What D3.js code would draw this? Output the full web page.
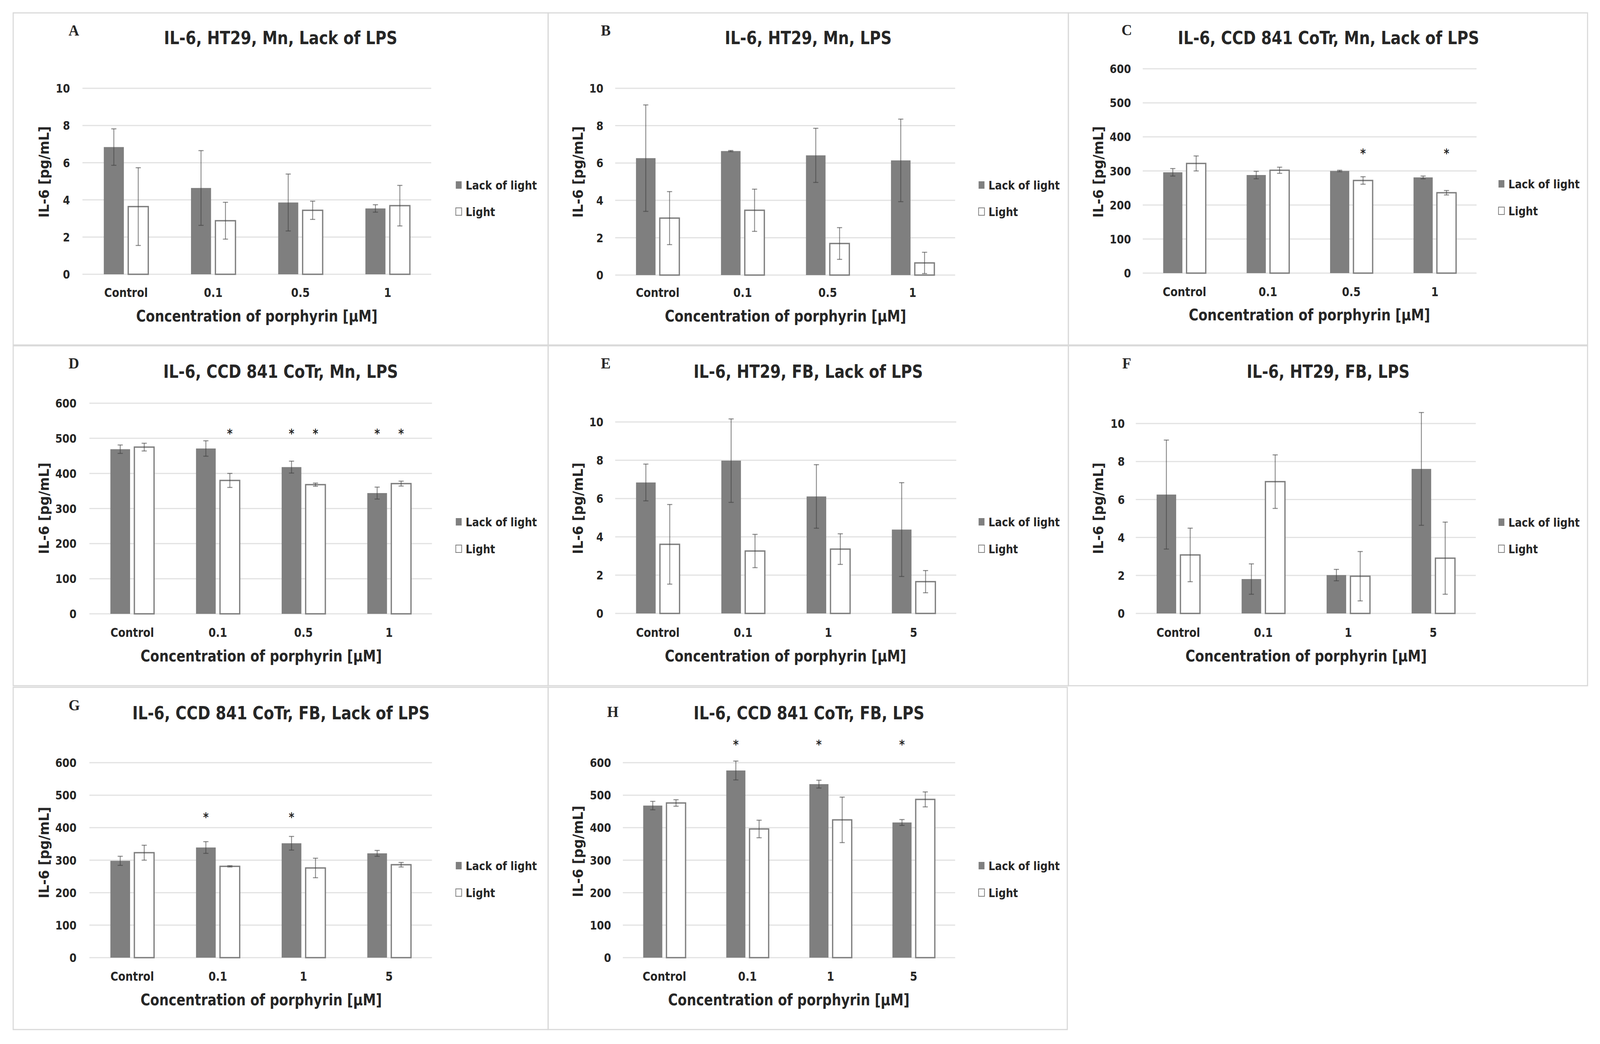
<!DOCTYPE html>
<html>
<head>
<meta charset="utf-8">
<script src="https://cdn.jsdelivr.net/npm/d3@7"></script>
<style>
  html, body { margin: 0; padding: 0; background: #fff; overflow: hidden; }
  #fig { display: block; width: 100vw; height: 100vh; }
  text { font-family: "Liberation Sans Narrow", "DejaVu Sans Condensed", Lato, sans-serif; font-weight: bold; fill: #262626; }
</style>
</head>
<body>
<svg id="fig"></svg>
<script>
// categories and labels
var catsMn = ["Control", "0.1", "0.5", "1"];
var catsFB = ["Control", "0.1", "1", "5"];
var seriesNames = ["Lack of light", "Light"];
var letters = ["A", "B", "C", "D", "E", "F", "G", "H"];
var titles = [
    "IL-6, HT29, Mn, Lack of LPS",
    "IL-6, HT29, Mn, LPS",
    "IL-6, CCD 841 CoTr, Mn, Lack of LPS",
    "IL-6, CCD 841 CoTr, Mn, LPS",
    "IL-6, HT29, FB, Lack of LPS",
    "IL-6, HT29, FB, LPS",
    "IL-6, CCD 841 CoTr, FB, Lack of LPS",
    "IL-6, CCD 841 CoTr, FB, LPS"
];
var xTitle = "Concentration of porphyrin [\u00b5M]";
var yTitle = "IL-6 [pg/mL]";
var ticksHT = [0, 2, 4, 6, 8, 10];
var ticksCCD = [0, 100, 200, 300, 400, 500, 600];

// values (mean, error)
var darkA = [6.84, 4.64, 3.86, 3.54], darkErrA = [0.98, 2.01, 1.53, 0.2];
var lightA = [3.64, 2.88, 3.44, 3.69], lightErrA = [2.09, 0.99, 0.49, 1.09];
var darkB = [6.26, 6.64, 6.41, 6.14], darkErrB = [2.85, 0.03, 1.45, 2.21];
var lightB = [3.05, 3.47, 1.69, 0.65], lightErrB = [1.42, 1.13, 0.85, 0.57];
var darkC = [296, 288, 300, 281], darkErrC = [11, 11, 2, 4];
var lightC = [322, 302, 272, 236], lightErrC = [22, 9, 11, 6.5];
var darkD = [469, 471, 418, 344], darkErrD = [12, 22, 17, 17];
var lightD = [475, 380, 368, 371], lightErrD = [11, 20, 4.5, 7];
var darkE = [6.84, 7.98, 6.11, 4.38], darkErrE = [0.96, 2.18, 1.66, 2.45];
var lightE = [3.61, 3.26, 3.36, 1.66], lightErrE = [2.08, 0.87, 0.8, 0.58];
var darkF = [6.26, 1.81, 2.02, 7.61], darkErrF = [2.87, 0.8, 0.3, 2.97];
var lightF = [3.08, 6.94, 1.96, 2.91], lightErrF = [1.41, 1.41, 1.3, 1.9];
var darkG = [298, 339, 352, 321], darkErrG = [14, 18, 21, 9];
var lightG = [323, 281, 276, 286], lightErrG = [23, 2, 30, 7];
var darkH = [468, 576, 534, 416], darkErrH = [13, 29, 12, 9];
var lightH = [476, 396, 424, 487], lightErrH = [10, 27, 70, 23];

// significance marks: [category index, series index], and the level they sit at
var starsC = [[2, 1], [3, 1]], starLevelC = 360;
var starsD = [[1, 1], [2, 0], [2, 1], [3, 0], [3, 1]], starLevelD = 522;
var starsG = [[1, 0], [2, 0]], starLevelG = 441;
var starsH = [[1, 0], [2, 0], [3, 0]], starLevelH = 664;

var panels = [
    { cats: catsMn, dark: darkA, darkErr: darkErrA, light: lightA, lightErr: lightErrA, ticks: ticksHT, stars: [], starLevel: 0 },
    { cats: catsMn, dark: darkB, darkErr: darkErrB, light: lightB, lightErr: lightErrB, ticks: ticksHT, stars: [], starLevel: 0 },
    { cats: catsMn, dark: darkC, darkErr: darkErrC, light: lightC, lightErr: lightErrC, ticks: ticksCCD, stars: starsC, starLevel: starLevelC },
    { cats: catsMn, dark: darkD, darkErr: darkErrD, light: lightD, lightErr: lightErrD, ticks: ticksCCD, stars: starsD, starLevel: starLevelD },
    { cats: catsFB, dark: darkE, darkErr: darkErrE, light: lightE, lightErr: lightErrE, ticks: ticksHT, stars: [], starLevel: 0 },
    { cats: catsFB, dark: darkF, darkErr: darkErrF, light: lightF, lightErr: lightErrF, ticks: ticksHT, stars: [], starLevel: 0 },
    { cats: catsFB, dark: darkG, darkErr: darkErrG, light: lightG, lightErr: lightErrG, ticks: ticksCCD, stars: starsG, starLevel: starLevelG },
    { cats: catsFB, dark: darkH, darkErr: darkErrH, light: lightH, lightErr: lightErrH, ticks: ticksCCD, stars: starsH, starLevel: starLevelH }
];

// layout of each panel in the page
var layout = [
    { box: [36, 33, 1496, 883], gl: 225, gr: 1177, y0: 702, yTop: 226, tx: 766, ty: 113, lx: 187, ly: 91, catY: 760, xtX: 701, xtY: 823, ytX: 120, ytY: 440, tickR: 191, legX: 1244, legY: [485, 553] },
    { box: [1496, 33, 2916, 883], gl: 1679, gr: 2607, y0: 704, yTop: 226, tx: 2206, ty: 113, lx: 1640, ly: 91, catY: 760, xtX: 2144, xtY: 823, ytX: 1577, ytY: 440, tickR: 1647, legX: 2671, legY: [485, 553] },
    { box: [2916, 33, 4333, 883], gl: 3119, gr: 4030, y0: 699, yTop: 176, tx: 3626, ty: 113, lx: 3061, ly: 90, catY: 758, xtX: 3574, xtY: 820, ytX: 2998, ytY: 440, tickR: 3087, legX: 4090, legY: [482, 551] },
    { box: [36, 885, 1496, 1755], gl: 244, gr: 1179, y0: 1571, yTop: 1032, tx: 766, ty: 967, lx: 187, ly: 943, catY: 1630, xtX: 713, xtY: 1693, ytX: 120, ytY: 1301, tickR: 209, legX: 1244, legY: [1347, 1416] },
    { box: [1496, 885, 2916, 1755], gl: 1679, gr: 2610, y0: 1570, yTop: 1080, tx: 2206, ty: 967, lx: 1640, ly: 943, catY: 1630, xtX: 2144, xtY: 1693, ytX: 1577, ytY: 1301, tickR: 1647, legX: 2671, legY: [1347, 1416] },
    { box: [2916, 885, 4333, 1755], gl: 3100, gr: 4028, y0: 1570, yTop: 1084, tx: 3625, ty: 967, lx: 3063, ly: 943, catY: 1630, xtX: 3565, xtY: 1693, ytX: 2998, ytY: 1301, tickR: 3070, legX: 4090, legY: [1348, 1416] },
    { box: [36, 1759, 1496, 2635], gl: 244, gr: 1179, y0: 2451, yTop: 1952, tx: 767, ty: 1841, lx: 187, ly: 1818, catY: 2510, xtX: 713, xtY: 2573, ytX: 120, ytY: 2182, tickR: 209, legX: 1244, legY: [2227, 2296] },
    { box: [1496, 1759, 2913, 2635], gl: 1700, gr: 2607, y0: 2451, yTop: 1952, tx: 2208, ty: 1841, lx: 1657, ly: 1835, catY: 2510, xtX: 2153, xtY: 2573, ytX: 1577, ytY: 2179, tickR: 1668, legX: 2671, legY: [2227, 2296] }
];

var W = 4367, H = 2672;
// stretch the drawing over the whole viewport, whatever its real pixel size
var svg = d3.select("#fig")
    .attr("viewBox", "0 0 " + W + " " + H)
    .attr("preserveAspectRatio", "none");
svg.append("rect").attr("width", W).attr("height", H).attr("fill", "#fff");

var barGray = "#7f7f7f";

function drawPanel(p, L, i) {
    var g = svg.append("g");
    g.append("rect")
        .attr("x", L.box[0]).attr("y", L.box[1])
        .attr("width", L.box[2] - L.box[0]).attr("height", L.box[3] - L.box[1])
        .attr("fill", "none").attr("stroke", "#d9d9d9").attr("stroke-width", 3);

    var yMax = p.ticks[p.ticks.length - 1];
    var y = d3.scaleLinear().domain([0, yMax]).range([L.y0, L.yTop]);
    var x = d3.scaleBand().domain(p.cats).range([L.gl, L.gr]);
    var step = x.step();
    var groupW = step * 0.51;
    var xs = d3.scaleBand().domain([0, 1]).range([0, groupW]).paddingInner(0.179);
    var off = (step - groupW) / 2;

    // gridlines
    g.selectAll(".grid").data(p.ticks).enter().append("line")
        .attr("x1", L.gl).attr("x2", L.gr)
        .attr("y1", function (d) { return y(d); }).attr("y2", function (d) { return y(d); })
        .attr("stroke", "#e2e2e2").attr("stroke-width", 3);

    // y tick labels
    g.selectAll(".tick").data(p.ticks).enter().append("text")
        .attr("x", L.tickR).attr("y", function (d) { return y(d); })
        .attr("dy", "0.36em").attr("text-anchor", "end")
        .attr("font-size", 31).text(function (d) { return d; });

    var rows = [];
    p.cats.forEach(function (c, k) {
        rows.push({ cat: c, s: 0, v: p.dark[k], e: p.darkErr[k] });
        rows.push({ cat: c, s: 1, v: p.light[k], e: p.lightErr[k] });
    });
    function cx(d) { return x(d.cat) + off + xs(d.s) + xs.bandwidth() / 2; }

    g.selectAll(".bar").data(rows).enter().append("rect")
        .attr("x", function (d) { return x(d.cat) + off + xs(d.s); })
        .attr("y", function (d) { return y(d.v); })
        .attr("width", xs.bandwidth())
        .attr("height", function (d) { return y(0) - y(d.v); })
        .attr("fill", function (d) { return d.s === 0 ? barGray : "#fff"; })
        .attr("stroke", function (d) { return d.s === 0 ? "none" : barGray; })
        .attr("stroke-width", 3.5);

    // error bars
    var eb = g.selectAll(".err").data(rows).enter().append("g")
        .attr("stroke", "#404040").attr("stroke-opacity", 0.6).attr("stroke-width", 2.5);
    eb.append("line")
        .attr("x1", cx).attr("x2", cx)
        .attr("y1", function (d) { return y(d.v + d.e); })
        .attr("y2", function (d) { return y(d.v - d.e); });
    [1, -1].forEach(function (sgn) {
        eb.append("line")
            .attr("x1", function (d) { return cx(d) - 7; })
            .attr("x2", function (d) { return cx(d) + 7; })
            .attr("y1", function (d) { return y(d.v + sgn * d.e); })
            .attr("y2", function (d) { return y(d.v + sgn * d.e); });
    });

    // significance stars
    g.selectAll(".star").data(p.stars).enter().append("text")
        .attr("x", function (d) { return cx({ cat: p.cats[d[0]], s: d[1] }); })
        .attr("y", y(p.starLevel))
        .attr("dy", "0.55em").attr("text-anchor", "middle")
        .attr("font-size", 32).text("*");

    // category labels
    g.selectAll(".cat").data(p.cats).enter().append("text")
        .attr("x", function (d) { return x(d) + step / 2; })
        .attr("y", L.catY).attr("text-anchor", "middle")
        .attr("font-size", 32).text(function (d) { return d; });

    g.append("text").attr("x", L.xtX).attr("y", L.xtY)
        .attr("text-anchor", "middle").attr("font-size", 40).text(xTitle);
    g.append("text")
        .attr("transform", "translate(" + L.ytX + "," + L.ytY + ") rotate(-90)")
        .attr("dy", "0.35em").attr("text-anchor", "middle")
        .attr("font-size", 38).text(yTitle);
    g.append("text").attr("x", L.tx).attr("y", L.ty)
        .attr("text-anchor", "middle").attr("font-size", 46).text(titles[i]);
    g.append("text").attr("x", L.lx).attr("y", L.ly)
        .style("font-family", "'Liberation Serif', 'DejaVu Serif', serif")
        .attr("font-size", 40).text(letters[i]);

    // legend
    seriesNames.forEach(function (name, k) {
        var ly = L.legY[k];
        g.append("rect").attr("x", L.legX).attr("y", ly - 21)
            .attr("width", 16).attr("height", 19)
            .attr("fill", k === 0 ? barGray : "#fff")
            .attr("stroke", k === 0 ? "none" : barGray).attr("stroke-width", 2);
        g.append("text").attr("x", L.legX + 27).attr("y", ly)
            .attr("font-size", 31).text(name);
    });
}

panels.forEach(function (p, i) { drawPanel(p, layout[i], i); });
</script>
</body>
</html>
